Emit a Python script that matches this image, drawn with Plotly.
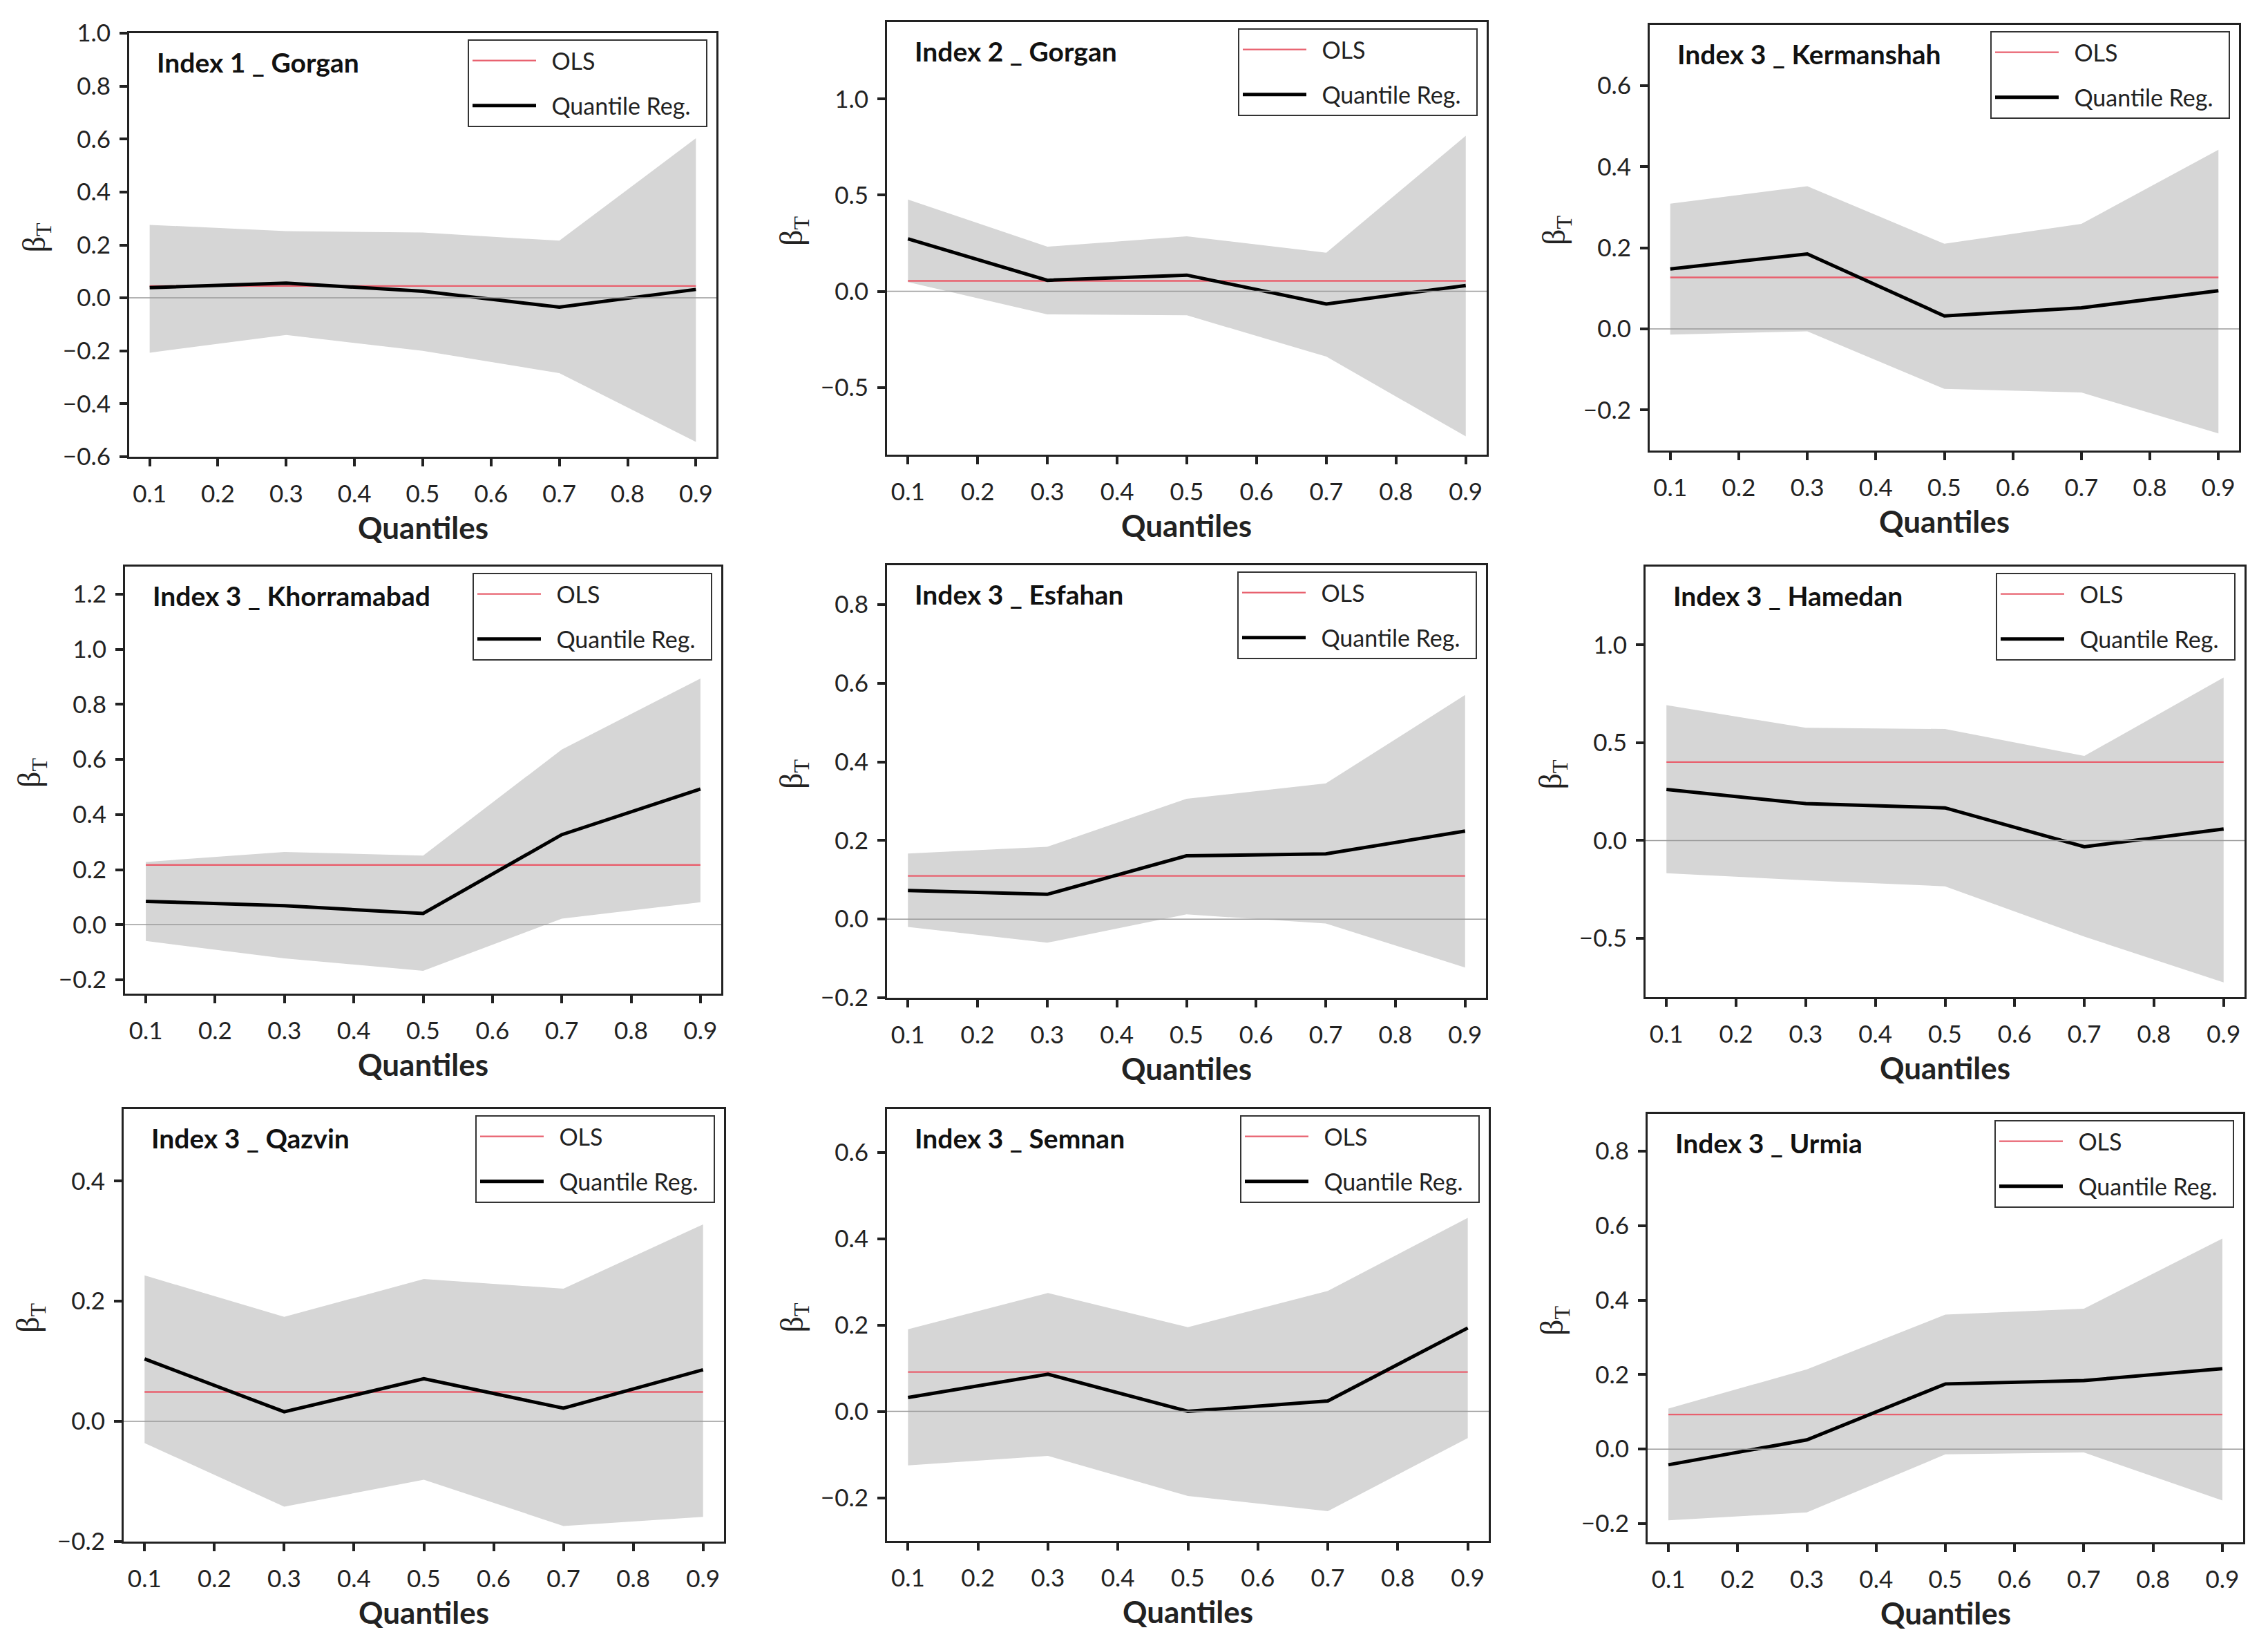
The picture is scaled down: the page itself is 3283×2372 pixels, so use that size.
import plotly.graph_objects as go

# ---------------- data ----------------
quantiles = [0.1, 0.3, 0.5, 0.7, 0.9]
x_tick_values = [0.1, 0.2, 0.3, 0.4, 0.5, 0.6, 0.7, 0.8, 0.9]

panel_titles = [
    "Index 1 _ Gorgan", "Index 2 _ Gorgan", "Index 3 _ Kermanshah",
    "Index 3 _ Khorramabad", "Index 3 _ Esfahan", "Index 3 _ Hamedan",
    "Index 3 _ Qazvin", "Index 3 _ Semnan", "Index 3 _ Urmia",
]

ols_values = [0.045, 0.054, 0.127, 0.217, 0.110, 0.401, 0.049, 0.091, 0.093]

qr_1 = [0.039, 0.056, 0.025, -0.035, 0.032]
upper_1 = [0.276, 0.252, 0.247, 0.216, 0.603]
lower_1 = [-0.207, -0.140, -0.200, -0.284, -0.544]

qr_2 = [0.273, 0.057, 0.084, -0.066, 0.030]
upper_2 = [0.477, 0.232, 0.286, 0.200, 0.809]
lower_2 = [0.048, -0.120, -0.125, -0.340, -0.755]

qr_3 = [0.148, 0.185, 0.032, 0.052, 0.094]
upper_3 = [0.309, 0.352, 0.210, 0.259, 0.442]
lower_3 = [-0.014, -0.006, -0.148, -0.157, -0.258]

qr_4 = [0.085, 0.069, 0.041, 0.327, 0.493]
upper_4 = [0.228, 0.264, 0.251, 0.636, 0.894]
lower_4 = [-0.059, -0.122, -0.167, 0.022, 0.082]

qr_5 = [0.073, 0.063, 0.161, 0.166, 0.224]
upper_5 = [0.167, 0.184, 0.306, 0.345, 0.570]
lower_5 = [-0.020, -0.060, 0.012, -0.011, -0.123]

qr_6 = [0.261, 0.189, 0.167, -0.032, 0.059]
upper_6 = [0.692, 0.576, 0.570, 0.432, 0.833]
lower_6 = [-0.167, -0.203, -0.234, -0.491, -0.725]

qr_7 = [0.104, 0.016, 0.071, 0.022, 0.086]
upper_7 = [0.243, 0.174, 0.237, 0.221, 0.328]
lower_7 = [-0.036, -0.142, -0.097, -0.174, -0.159]

qr_8 = [0.032, 0.086, 0.000, 0.024, 0.193]
upper_8 = [0.190, 0.274, 0.195, 0.279, 0.448]
lower_8 = [-0.125, -0.103, -0.196, -0.231, -0.062]

qr_9 = [-0.042, 0.025, 0.175, 0.184, 0.216]
upper_9 = [0.109, 0.214, 0.361, 0.377, 0.565]
lower_9 = [-0.191, -0.170, -0.014, -0.009, -0.138]

qr_all = [qr_1, qr_2, qr_3, qr_4, qr_5, qr_6, qr_7, qr_8, qr_9]
upper_all = [upper_1, upper_2, upper_3, upper_4, upper_5, upper_6, upper_7, upper_8, upper_9]
lower_all = [lower_1, lower_2, lower_3, lower_4, lower_5, lower_6, lower_7, lower_8, lower_9]

# ---------------- layout config ----------------
W, H = 3283, 2372
OFF = 8  # page offset of the plot div (body margin)
# plot-area boxes in pixels: (left, right, top, bottom)
boxes = [
    (187, 1037, 48, 661), (1284, 2152, 32, 658), (2388, 3241, 36, 652),
    (181, 1044, 820, 1438), (1284, 2151, 818, 1444), (2382, 3249, 820, 1443),
    (179, 1048, 1605, 2231), (1284, 2155, 1605, 2230), (2385, 3247, 1612, 2232),
]
y_ranges = [
    (-0.6, 1.0), (-0.85, 1.4), (-0.3, 0.75),
    (-0.25, 1.3), (-0.2, 0.9), (-0.8, 1.4),
    (-0.2, 0.52), (-0.3, 0.7), (-0.25, 0.9),
]
y_dticks = [0.2, 0.5, 0.2, 0.2, 0.2, 0.5, 0.2, 0.2, 0.2]


def px(x):
    return (x - OFF) / W


def py(y):
    return 1 - (y - OFF) / H


FONT = "Lato"
AXIS_COLOR = "#222222"
BAND_COLOR = "#d6d6d6"
OLS_COLOR = "#e8606e"
NB = "\u00a0\u00a0"

fig = go.Figure()
layout = dict(
    width=W, height=H, autosize=False,
    margin=dict(l=0, r=0, t=0, b=0, pad=0, autoexpand=False),
    paper_bgcolor="white", plot_bgcolor="white",
    font=dict(family=FONT, color="#222222", size=30),
    annotations=[], shapes=[],
)

for i in range(9):
    n = i + 1
    sfx = "" if n == 1 else str(n)
    xa, ya = "x" + sfx, "y" + sfx
    leg = "legend" + sfx
    L, R, T, B = boxes[i]

    # confidence band
    fig.add_trace(go.Scatter(
        x=quantiles + quantiles[::-1],
        y=upper_all[i] + lower_all[i][::-1],
        fill="toself", fillcolor=BAND_COLOR, mode="lines",
        line=dict(width=0, color=BAND_COLOR),
        showlegend=False, hoverinfo="skip", xaxis=xa, yaxis=ya,
    ))
    # OLS
    fig.add_trace(go.Scatter(
        x=[quantiles[0], quantiles[-1]], y=[ols_values[i], ols_values[i]],
        mode="lines", line=dict(color=OLS_COLOR, width=2.4),
        name=NB + "OLS", legend=leg, legendgroup="ols" + sfx,
        xaxis=xa, yaxis=ya,
    ))
    # Quantile regression
    fig.add_trace(go.Scatter(
        x=quantiles, y=qr_all[i],
        mode="lines", line=dict(color="black", width=5),
        name=NB + "Quantile Reg." + NB, legend=leg, legendgroup="qr" + sfx,
        xaxis=xa, yaxis=ya,
    ))

    layout["xaxis" + sfx] = dict(
        domain=[px(L), px(R)], anchor=ya, range=[0.07, 0.93],
        tickvals=x_tick_values, tickformat=".1f",
        showgrid=False, zeroline=False, automargin=False,
        showline=True, linewidth=3, linecolor=AXIS_COLOR, mirror=True,
        ticks="outside", ticklen=11, tickwidth=3.5, tickcolor=AXIS_COLOR,
        ticklabelstandoff=10,
        tickfont=dict(family=FONT, size=35, color="#222222"),
    )
    layout["yaxis" + sfx] = dict(
        domain=[py(B), py(T)], anchor=xa, range=list(y_ranges[i]),
        dtick=y_dticks[i], tick0=0, tickformat=".1f",
        showgrid=False, zeroline=False, automargin=False,
        showline=True, linewidth=3, linecolor=AXIS_COLOR, mirror=True,
        ticks="outside", ticklen=11, tickwidth=3.5, tickcolor=AXIS_COLOR,
        ticklabelstandoff=6,
        tickfont=dict(family=FONT, size=35, color="#222222"),
    )
    layout[leg] = dict(
        x=px(R - 13), xanchor="right", y=py(T + 9), yanchor="top",
        bgcolor="white", bordercolor="#333333", borderwidth=2,
        font=dict(family=FONT, size=34, color="#222222"),
        traceorder="grouped", tracegroupgap=18, itemwidth=92,
    )
    # zero reference line
    layout["shapes"].append(dict(
        type="line", xref=xa + " domain", x0=0, x1=1, yref=ya, y0=0, y1=0,
        line=dict(color="#9a9a9a", width=1.5), layer="above",
    ))
    # panel title
    layout["annotations"].append(dict(
        text="<b>" + panel_titles[i] + "</b>", xref="paper", yref="paper",
        x=px(L + 38), y=py(T + 42), xanchor="left", yanchor="middle",
        showarrow=False, font=dict(family=FONT, size=39, color="#111111"),
    ))
    # y-axis title
    layout["annotations"].append(dict(
        text="β<sub>T</sub>", xref="paper", yref="paper",
        x=px(L - 135), y=py((T + B) / 2 - 10),
        xanchor="center", yanchor="middle", textangle=-90, showarrow=False,
        font=dict(family="Liberation Serif", size=46, color="#222222"),
    ))
    # x-axis title
    layout["annotations"].append(dict(
        text="<b>Quantiles</b>", xref="paper", yref="paper",
        x=px((L + R) / 2), y=py(B + 102),
        xanchor="center", yanchor="middle", showarrow=False,
        font=dict(family=FONT, size=44, color="#222222"),
    ))

fig.update_layout(**layout)
fig.write_html("out.html")
